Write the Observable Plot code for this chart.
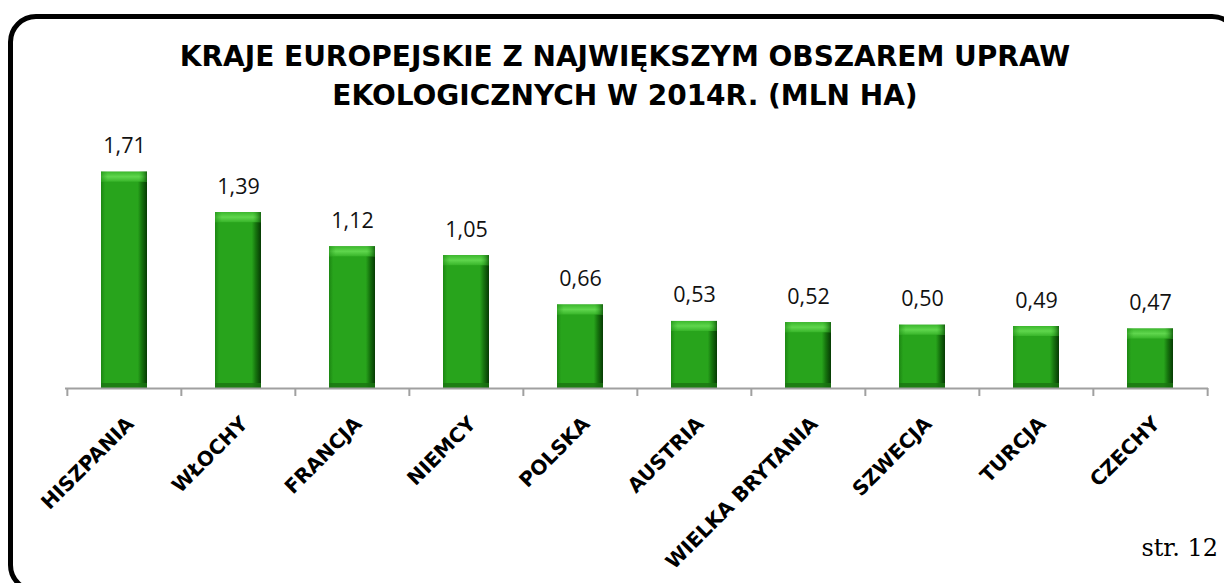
<!DOCTYPE html>
<html>
<head>
<meta charset="utf-8">
<script src="https://cdn.jsdelivr.net/npm/d3@7"></script>
<script src="https://cdn.jsdelivr.net/npm/@observablehq/plot@0.6"></script>
<style>
  html, body { margin: 0; padding: 0; background: #fff; }
  body { width: 1224px; height: 583px; overflow: hidden; position: relative; }
  #frame { position: absolute; left: 8px; top: 14px; width: 1232px; height: 579px;
           box-sizing: border-box; border: 5px solid #000; border-radius: 28px; }
  #title { position: absolute; left: 0; top: 37px; width: 1250px; text-align: center;
           font-family: "DejaVu Sans", sans-serif; font-weight: bold; font-size: 28px;
           line-height: 39px; color: #000; }
  #chart { position: absolute; left: 0; top: 0; }
  #page { position: absolute; right: 6px; top: 531px; font-family: "DejaVu Serif", serif;
          font-size: 24px; line-height: 34px; color: #000; }
</style>
</head>
<body>
<div id="frame"></div>
<div id="title">KRAJE EUROPEJSKIE Z NAJWIĘKSZYM OBSZAREM UPRAW<br>EKOLOGICZNYCH W 2014R. (MLN HA)</div>
<div id="chart"></div>
<div id="page">str. 12</div>
<script>
const countries = ["HISZPANIA", "WŁOCHY", "FRANCJA", "NIEMCY", "POLSKA", "AUSTRIA", "WIELKA BRYTANIA", "SZWECJA", "TURCJA", "CZECHY"];
const values = [1.71, 1.39, 1.12, 1.05, 0.66, 0.53, 0.52, 0.50, 0.49, 0.47];
const valueLabels = ["1,71", "1,39", "1,12", "1,05", "0,66", "0,53", "0,52", "0,50", "0,49", "0,47"];

const data = countries.map((c, i) => ({c, v: values[i], t: valueLabels[i]}));

const W = 1224, H = 583;
const mL = 65, mR = 16, mT = 135, mB = 195;
const step = (W - mL - mR) / countries.length;

const chart = Plot.plot({
  width: W, height: H,
  marginLeft: mL, marginRight: mR, marginTop: mT, marginBottom: mB,
  x: {domain: countries, paddingInner: 0.6, paddingOuter: 0.3, label: null},
  y: {domain: [0, 2], axis: null},
  style: {background: "transparent", overflow: "visible"},
  marks: [
    Plot.barY(data, {x: "c", y: "v", fill: "url(#gBar)"}),
    Plot.barY(data, {x: "c", y1: "v", y2: "v", insetBottom: -10, fill: "url(#gTop)"}),
    Plot.barY(data, {x: "c", y1: "v", y2: "v", insetBottom: -10, fill: "url(#gTopEdge)"}),
    Plot.barY(data, {x: "c", y1: () => 0, y2: () => 0, insetTop: -5, fill: "#1a7412", fillOpacity: 0.8}),
    Plot.ruleY([0], {stroke: "#a0a0a0", strokeWidth: 2}),
    Plot.ruleX(countries, {x: d => d, y1: () => 0, y2: () => 0, insetBottom: -8, dx: -step / 2, stroke: "#a0a0a0", strokeWidth: 2}),
    Plot.ruleX(countries.slice(-1), {x: d => d, y1: () => 0, y2: () => 0, insetBottom: -8, dx: step / 2, stroke: "#a0a0a0", strokeWidth: 2}),
    Plot.text(data, {x: "c", y: "v", text: "t", dy: -19, lineAnchor: "bottom",
      fontFamily: "Open Sans", fontSize: 21.5, fill: "#111"}),
    Plot.axisX({tickSize: 0, tickPadding: 32, tickRotate: -45, dx: 6,
      fontFamily: "DejaVu Sans", fontWeight: "bold", fontSize: 20, fill: "#000", label: null})
  ]
});

const svg = chart.tagName.toLowerCase() === "svg" ? chart : chart.querySelector("svg");
svg.insertAdjacentHTML("afterbegin", `
<defs>
  <linearGradient id="gBar" x1="0" x2="1" y1="0" y2="0">
    <stop offset="0" stop-color="#1c8613"/>
    <stop offset="0.09" stop-color="#28a41c"/>
    <stop offset="0.80" stop-color="#28a41c"/>
    <stop offset="0.88" stop-color="#17770f"/>
    <stop offset="1" stop-color="#063a03"/>
  </linearGradient>
  <linearGradient id="gTop" x1="0" x2="0" y1="0" y2="1">
    <stop offset="0" stop-color="#3cb82d"/>
    <stop offset="0.5" stop-color="#5fd64d"/>
    <stop offset="1" stop-color="#38b52a"/>
  </linearGradient>
  <linearGradient id="gTopEdge" x1="0" x2="1" y1="0" y2="0">
    <stop offset="0" stop-color="#1c8613" stop-opacity="0.6"/>
    <stop offset="0.15" stop-color="#28a41c" stop-opacity="0"/>
    <stop offset="0.82" stop-color="#28a41c" stop-opacity="0"/>
    <stop offset="1" stop-color="#0a4a06" stop-opacity="0.8"/>
  </linearGradient>
</defs>`);
document.getElementById("chart").appendChild(chart);
</script>
</body>
</html>
